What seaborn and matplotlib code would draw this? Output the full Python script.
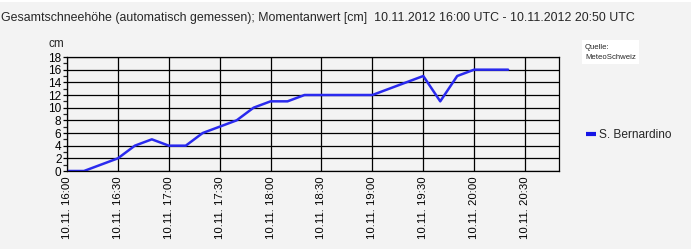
import matplotlib
matplotlib.use("Agg")
import matplotlib.pyplot as plt
import matplotlib.dates as mdates
from matplotlib.ticker import MultipleLocator
from matplotlib.patches import Rectangle
import seaborn as sns
import pandas as pd

# Data (10-minute values)
times = pd.date_range("2012-11-10 16:00", "2012-11-10 20:20", freq="10min")
snow_cm = [0, 0, 1, 2, 4, 5, 4, 4, 6, 7, 8, 10, 11, 11, 12, 12, 12, 12, 12,
           13, 14, 15, 11, 15, 16, 16, 16]
station = "S. Bernardino"
title = ("Gesamtschneehöhe (automatisch gemessen); Momentanwert [cm]  "
         "10.11.2012 16:00 UTC - 10.11.2012 20:50 UTC")

df = pd.DataFrame({"time": times, "snow": snow_cm, "station": station})

sns.set_theme(style="white")
plt.rcParams["font.family"] = ["Liberation Sans", "DejaVu Sans"]

W, H = 694, 249
fig = plt.figure(figsize=(W / 100, H / 100), dpi=100)
fig.patch.set_facecolor("#f3f3f3")
# thin white margins at top and right edge
fig.patches.append(Rectangle((0, 1 - 2 / H), 1, 2 / H, transform=fig.transFigure,
                             facecolor="white", edgecolor="none", zorder=0))
fig.patches.append(Rectangle((1 - 3 / W, 0), 3 / W, 1, transform=fig.transFigure,
                             facecolor="white", edgecolor="none", zorder=0))

ax = fig.add_axes([67 / W, (H - 171) / H, (559 - 67) / W, (171 - 57) / H])
ax.set_facecolor("#f3f3f3")

line_color = "#2a2aee"
sns.lineplot(data=df, x="time", y="snow", ax=ax, color=line_color,
             linewidth=1.8, legend=False)

ax.set_xlim(pd.Timestamp("2012-11-10 16:00"), pd.Timestamp("2012-11-10 20:50"))
ax.set_ylim(0, 18)
ax.xaxis.set_major_locator(mdates.MinuteLocator(byminute=[0, 30]))
ax.xaxis.set_major_formatter(mdates.DateFormatter("%d.%m. %H:%M"))
ax.yaxis.set_major_locator(MultipleLocator(2))
ax.yaxis.set_minor_locator(MultipleLocator(1))
ax.grid(True, which="major", color="black", linewidth=0.9)
for s in ax.spines.values():
    s.set_color("black")
    s.set_linewidth(0.9)
ax.tick_params(axis="x", which="both", length=0, pad=4, labelsize=8.2,
               labelrotation=90, colors="black")
ax.tick_params(axis="y", which="major", length=3, width=0.9, pad=1,
               labelsize=8.5, colors="black", left=True)
ax.tick_params(axis="y", which="minor", length=3, width=0.9, left=True)
ax.set_xlabel("")
ax.set_ylabel("")

fig.text(0.002, 1 - 18 / H, title, fontsize=8.9, va="center", ha="left")
fig.text(48 / W, 1 - 44 / H, "cm", fontsize=8.5, va="center", ha="left")

fig.text(585 / W, 1 - 52.5 / H, "Quelle:\nMeteoSchweiz", fontsize=5.6,
         va="center", ha="left", linespacing=1.6,
         bbox=dict(facecolor="white", edgecolor="none", pad=2.5))

handle = plt.Line2D([], [], color="#1515e6", linewidth=3, solid_capstyle="butt")
fig.legend([handle], [station], loc="center left",
           bbox_to_anchor=(575 / W, 1 - 135 / H), frameon=False,
           fontsize=8.6, handlelength=0.85, handletextpad=0.25)

fig.savefig("out.png", dpi=100, facecolor=fig.get_facecolor())
